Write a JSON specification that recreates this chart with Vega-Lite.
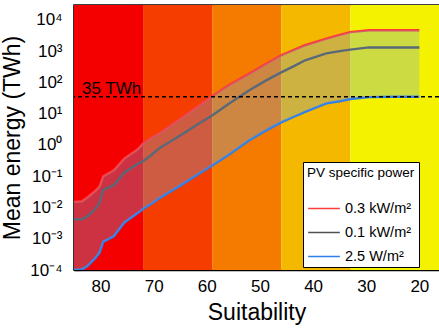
{
  "$schema": "https://vega.github.io/schema/vega-lite/v6.json",
  "width": 365,
  "height": 265,
  "autosize": "none",
  "padding": {"left": 74, "top": 5, "right": 0, "bottom": 61},
  "config": {
    "font": "Liberation Sans",
    "view": {"stroke": "black", "strokeWidth": 1.5},
    "axis": {
      "grid": false,
      "domainColor": "black",
      "domainWidth": 1.5,
      "tickColor": "black",
      "tickWidth": 1.2,
      "labelColor": "black",
      "titleColor": "black",
      "labelFontSize": 17,
      "titleFontSize": 23,
      "titleFontWeight": "normal",
      "labelFlush": false,
      "labelOverlap": false
    }
  },
  "datasets": {
    "zones": [
      {"from": 85, "to": 72, "zone": "z1"},
      {"from": 72, "to": 59, "zone": "z2"},
      {"from": 59, "to": 46, "zone": "z3"},
      {"from": 46, "to": 33, "zone": "z4"},
      {"from": 33, "to": 16.3, "zone": "z5"}
    ],
    "energy": [
      {"s": 85, "hi": 0.0151, "mid": 0.00417, "lo": 0.0001},
      {"s": 83.5, "hi": 0.0158, "mid": 0.00417, "lo": 0.000105},
      {"s": 82.5, "hi": 0.0209, "mid": 0.00525, "lo": 0.000132},
      {"s": 81, "hi": 0.0339, "mid": 0.00891, "lo": 0.00024},
      {"s": 80.2, "hi": 0.0468, "mid": 0.0141, "lo": 0.000355},
      {"s": 79.5, "hi": 0.1, "mid": 0.0363, "lo": 0.000794},
      {"s": 77.5, "hi": 0.155, "mid": 0.0525, "lo": 0.0012},
      {"s": 75.5, "hi": 0.372, "mid": 0.132, "lo": 0.00331},
      {"s": 73, "hi": 0.724, "mid": 0.251, "lo": 0.00661},
      {"s": 72, "hi": 1.12, "mid": 0.302, "lo": 0.00891},
      {"s": 70.5, "hi": 1.7, "mid": 0.468, "lo": 0.0129},
      {"s": 69, "hi": 2.34, "mid": 0.776, "lo": 0.0195},
      {"s": 65, "hi": 6.92, "mid": 2.0, "lo": 0.0501},
      {"s": 62, "hi": 15.8, "mid": 4.27, "lo": 0.105},
      {"s": 59, "hi": 36.3, "mid": 8.71, "lo": 0.219},
      {"s": 56, "hi": 79.4, "mid": 20.0, "lo": 0.468},
      {"s": 52, "hi": 191, "mid": 56.2, "lo": 1.41},
      {"s": 49, "hi": 380, "mid": 112, "lo": 2.82},
      {"s": 46, "hi": 741, "mid": 209, "lo": 5.25},
      {"s": 43.5, "hi": 1122, "mid": 339, "lo": 8.13},
      {"s": 41.5, "hi": 1549, "mid": 513, "lo": 11.5},
      {"s": 37.5, "hi": 2512, "mid": 851, "lo": 21.4},
      {"s": 35, "hi": 3311, "mid": 1000, "lo": 25.1},
      {"s": 33, "hi": 4074, "mid": 1122, "lo": 29.5},
      {"s": 29.5, "hi": 4677, "mid": 1318, "lo": 33.9},
      {"s": 25, "hi": 4677, "mid": 1318, "lo": 35},
      {"s": 20, "hi": 4677, "mid": 1318, "lo": 35}
    ],
    "target": [{"s": 83.5, "v": 35, "label": "35 TWh"}]
  },
  "layer": [
    {
      "data": {"name": "zones"},
      "mark": {"type": "rect"},
      "encoding": {
        "x": {
          "field": "from", "type": "quantitative",
          "scale": {"domain": [16.3, 85], "reverse": true, "nice": false, "zero": false},
          "axis": {"orient": "bottom", "values": [75, 65, 55, 45, 35, 25], "tickSize": -3, "labels": false, "domain": false, "title": null}
        },
        "x2": {"field": "to"},
        "fill": {
          "field": "zone", "type": "nominal",
          "scale": {"domain": ["z1", "z2", "z3", "z4", "z5"], "range": ["#f50000", "#f53d00", "#f57a00", "#f5b800", "#f5f200"]},
          "legend": null
        }
      }
    },
    {
      "data": {"name": "energy"},
      "transform": [{"fold": ["hi", "mid", "lo"], "as": ["series", "value"]}],
      "mark": {"type": "line", "strokeWidth": 2.4, "clip": true},
      "encoding": {
        "x": {
          "field": "s", "type": "quantitative",
          "axis": {"orient": "bottom", "values": [80, 70, 60, 50, 40, 30, 20], "tickSize": -5, "labelPadding": 13, "title": "Suitability", "titlePadding": 7}
        },
        "y": {
          "field": "value", "type": "quantitative",
          "scale": {"type": "log", "domain": [0.0001, 30000], "nice": false},
          "axis": {
            "orient": "left",
            "values": [0.0001, 0.001, 0.01, 0.1, 1, 10, 100, 1000, 10000],
            "tickSize": -6,
            "labelPadding": 18,
            "labelExpr": "['10⁻⁴','10⁻³','10⁻²','10⁻¹','10⁰','10¹','10²','10³','10⁴'][round(log(datum.value)/LN10)+4]",
            "title": "Mean energy (TWh)",
            "titlePadding": 5
          }
        },
        "stroke": {
          "field": "series", "type": "nominal",
          "scale": {"domain": ["hi", "mid", "lo"], "range": ["#ff3a3a", "#4f4f4f", "#2f7de8"]},
          "legend": {
            "title": "PV specific power",
            "orient": "none",
            "legendX": 229,
            "legendY": 157,
            "direction": "vertical",
            "labelExpr": "datum.label == 'hi' ? '0.3 kW/m²' : datum.label == 'mid' ? '0.1 kW/m²' : '2.5 W/m²'",
            "symbolType": "stroke",
            "symbolSize": 1000,
            "symbolStrokeWidth": 1.5,
            "titleFontSize": 13.5,
            "titleFontWeight": "normal",
            "titleColor": "black",
            "labelFontSize": 14.5,
            "labelColor": "black",
            "titlePadding": 12,
            "rowPadding": -10,
            "padding": 4,
            "strokeColor": "black",
            "fillColor": "white"
          }
        }
      }
    },
    {
      "data": {"name": "energy"},
      "mark": {"type": "area", "fill": "#70a7d9", "opacity": 0.3},
      "encoding": {
        "x": {
          "field": "s", "type": "quantitative",
          "axis": {"orient": "top", "values": [80, 70, 60, 50, 40, 30, 20], "tickSize": -5, "labels": false, "domain": false, "title": null}
        },
        "y": {
          "field": "lo", "type": "quantitative",
          "axis": {
            "orient": "left",
            "values": [0.0002, 0.0003, 0.0004, 0.0005, 0.0006, 0.0007, 0.0008, 0.0009,
                       0.002, 0.003, 0.004, 0.005, 0.006, 0.007, 0.008, 0.009,
                       0.02, 0.03, 0.04, 0.05, 0.06, 0.07, 0.08, 0.09,
                       0.2, 0.3, 0.4, 0.5, 0.6, 0.7, 0.8, 0.9,
                       2, 3, 4, 5, 6, 7, 8, 9,
                       20, 30, 40, 50, 60, 70, 80, 90,
                       200, 300, 400, 500, 600, 700, 800, 900,
                       2000, 3000, 4000, 5000, 6000, 7000, 8000, 9000, 20000],
            "tickSize": -3,
            "labels": false,
            "domain": false,
            "title": null
          }
        },
        "y2": {"field": "hi"}
      }
    },
    {
      "data": {"name": "target"},
      "mark": {"type": "rule", "color": "black", "strokeWidth": 1.4, "strokeDash": [4, 3]},
      "encoding": {
        "y": {"field": "v", "type": "quantitative", "axis": null}
      }
    },
    {
      "data": {"name": "target"},
      "mark": {"type": "text", "align": "left", "baseline": "alphabetic", "dy": -3, "fontSize": 17, "color": "black"},
      "encoding": {
        "x": {
          "field": "s", "type": "quantitative",
          "axis": {"orient": "top", "values": [75, 65, 55, 45, 35, 25], "tickSize": -3, "labels": false, "domain": false, "title": null}
        },
        "y": {"field": "v", "type": "quantitative", "axis": null},
        "text": {"field": "label"}
      }
    }
  ],
  "resolve": {"axis": {"x": "independent", "y": "independent"}}
}
